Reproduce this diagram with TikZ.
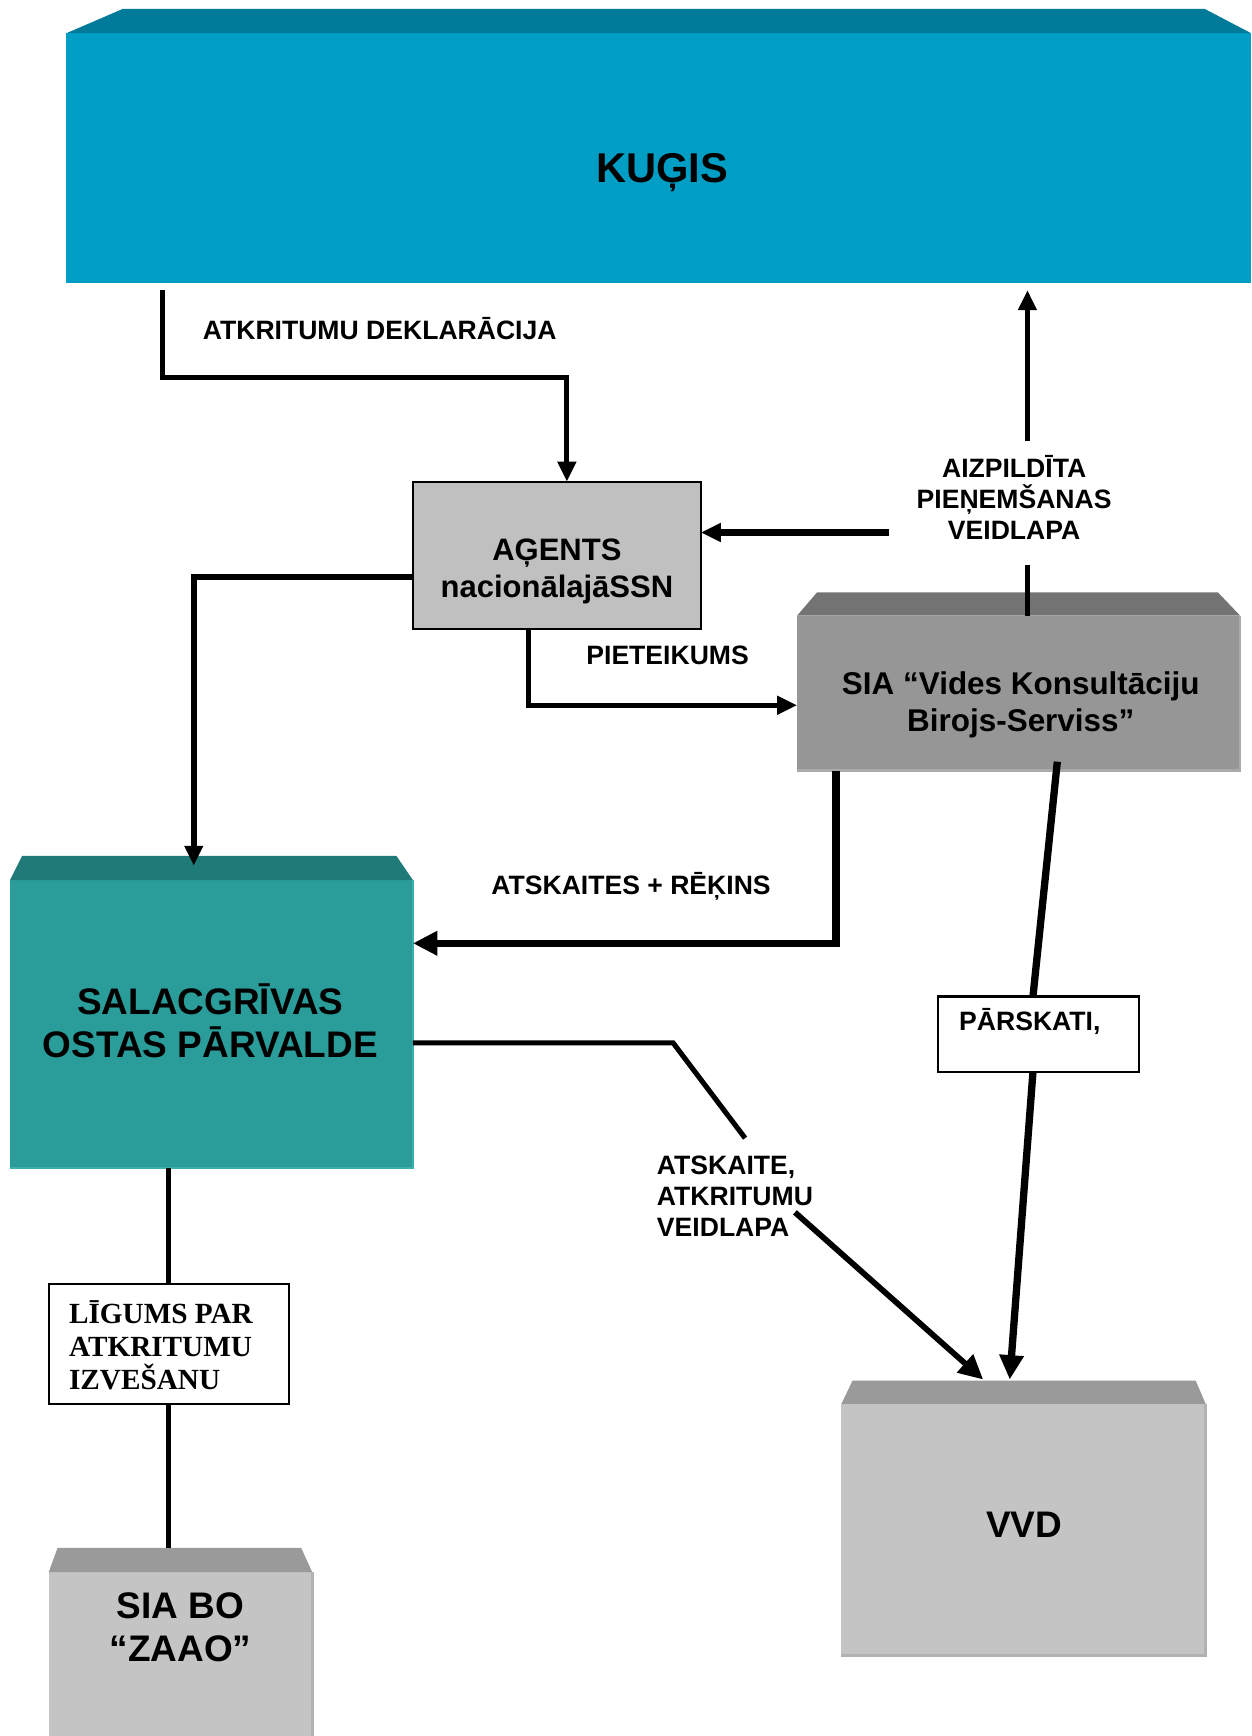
\documentclass[tikz,border=0pt]{standalone}
\usepackage{fontspec}
\setmainfont{Liberation Sans}
\newfontfamily\serifb{Liberation Serif}
\usetikzlibrary{arrows.meta,calc,fit}

\definecolor{kugfront}{RGB}{0,157,197}
\definecolor{kugtop}{RGB}{0,122,153}
\definecolor{salfront}{RGB}{42,157,154}
\definecolor{saltop}{RGB}{32,122,119}
\definecolor{saledge}{RGB}{60,175,172}
\definecolor{siafront}{RGB}{150,150,150}
\definecolor{siatop}{RGB}{115,115,115}
\definecolor{siaedge}{RGB}{170,170,170}
\definecolor{lgfront}{RGB}{196,196,196}
\definecolor{lgtop}{RGB}{154,154,154}
\definecolor{lgedge}{RGB}{178,178,178}
\definecolor{agfill}{RGB}{192,192,192}

\begin{document}
\begin{tikzpicture}[x=0.5pt,y=-0.5pt,
  face/.style={inner sep=0pt, outer sep=0pt, draw=none},
  plainbox/.style={inner sep=0pt, outer sep=0pt, draw=black, line width=1pt},
  edge line/.style={line width=1.2pt},
  lbl/.style={font=\bfseries\fontsize{12}{14}\selectfont, inner sep=0pt},
  boxtxt/.style={font=\bfseries\fontsize{14.2}{16.8}\selectfont, align=center, inner sep=0pt},
  bigtxt/.style={font=\bfseries\fontsize{16.7}{19.5}\selectfont, align=center, inner sep=0pt},
  ln/.style={line width=2.3pt},
  lnT/.style={line width=3.3pt},
  tipS/.style={-{Triangle[length=9pt,width=8pt]}},
  tipL/.style={-{Triangle[length=11pt,width=10.5pt]}}
]
\useasboundingbox (0,0) rectangle (1130,1568);
\clip (0,0) rectangle (1130,1568);

% ---------- boxes ----------
\node[face, fill=kugfront, fit={(60,30) (1130,256)}] (kugis) {};
\fill[kugtop] (kugis.north west) -- (111,8) -- (1088,8) -- (kugis.north east) -- cycle;
\node[font=\bfseries\fontsize{18.8}{22}\selectfont, inner sep=0pt] (kugisT) at (598,156) {KUĢIS};

\node[plainbox, fill=agfill, fit={(373,435) (633,568)}] (agents) {};
\node[boxtxt, font=\bfseries\fontsize{14}{17}\selectfont] (agentsT) at (503,516) {AĢENTS\\nacionālajāSSN};

\node[face, fill=siafront, fit={(720,556) (1120,696)}] (sia) {};
\fill[siatop] (sia.north west) -- (738,535) -- (1100,535) -- (sia.north east) -- cycle;
\draw[edge line, siaedge] (sia.north east) -- (sia.south east) -- (sia.south west);
\node[boxtxt] (siaT) at (922,637) {SIA “Vides Konsultāciju\\Birojs-Serviss”};

\node[face, fill=salfront, fit={(9,795) (373,1055)}] (sal) {};
\fill[saltop] (sal.north west) -- (20,773) -- (358,773) -- (sal.north east) -- cycle;
\draw[edge line, saledge] (sal.north east) -- (sal.south east) -- (sal.south west);
\node[bigtxt] (salT) at (190,922) {SALACGRĪVAS\\OSTAS PĀRVALDE};

\node[face, fill=lgfront, fit={(760,1268) (1089,1495)}] (vvd) {};
\fill[lgtop] (vvd.north west) -- (770,1247) -- (1080,1247) -- (vvd.north east) -- cycle;
\draw[edge line, lgedge] (vvd.north east) -- (vvd.south east) -- (vvd.south west);
\node[bigtxt] (vvdT) at (925,1377) {VVD};

\node[face, fill=lgfront, fit={(44,1420) (282,1568)}] (zaao) {};
\fill[lgtop] (zaao.north west) -- (52,1398) -- (272,1398) -- (zaao.north east) -- cycle;
\draw[edge line, lgedge] (zaao.north east) -- (zaao.south east);
\node[bigtxt] (zaaoT) at (163,1470) {SIA BO\\“ZAAO”};

\node[plainbox, fill=white, fit={(44,1160) (261,1268)}] (lig) {};
\node[font=\serifb\bfseries\fontsize{13.2}{15}\selectfont, align=left, inner sep=0pt, anchor=west] (ligT) at (62,1215) {LĪGUMS PAR\\ATKRITUMU\\IZVEŠANU};

\node[plainbox, fill=white, fit={(847,900) (1029,968)}] (pars) {};
\node[lbl, anchor=west] (parsT) at (866,923) {PĀRSKATI,};

% ---------- labels ----------
\node[lbl] (lDekl) at (343,297) {ATKRITUMU DEKLARĀCIJA};
\node[lbl, align=center] (lAizp) at (916,449) {AIZPILDĪTA\\PIEŅEMŠANAS\\VEIDLAPA};
\node[lbl] (lPiet) at (603,592) {PIETEIKUMS};
\node[lbl] (lAtsk) at (570,801) {ATSKAITES + RĒĶINS};
\node[lbl, align=left, anchor=west] (lVeid) at (593,1080) {ATSKAITE,\\ATKRITUMU\\VEIDLAPA};

% ---------- connectors ----------
% KUGIS -> AGENTS
\coordinate (k1) at (147,262);
\coordinate (k2) at (512,341);
\draw[ln, tipS] (k1) |- (k2) -- (k2 |- agents.north);

% SIA -> KUGIS (through label)
\coordinate (u1) at (928,398);
\coordinate (u2) at (928,510);
\draw[ln, tipS] (u1) -- ($(u1 |- kugis.south)+(0,6)$);
\draw[ln] (u2) -- (u2 |- sia.north);

% label -> AGENTS
\coordinate (r1) at (803,481);
\draw[line width=3pt, tipS] (r1) -- (r1 -| agents.east);

% AGENTS -> SALACGRIVAS
\coordinate (l1) at (175,521);
\coordinate (l2) at (175,782);
\draw[line width=2.6pt, tipS] (l1 -| agents.west) -- (l1) -- (l2);

% AGENTS -> SIA (PIETEIKUMS)
\coordinate (p1) at (477,637);
\draw[ln, tipS] (p1 |- agents.south) -- (p1) -- (p1 -| sia.west);

% SIA -> SALACGRIVAS (ATSKAITES + REKINS)
\coordinate (a1) at (755,852);
\draw[lnT, tipL] (a1 |- sia.south) -- (a1) -- (a1 -| sal.east);

% SALACGRIVAS -> VVD
\coordinate (s1) at (608,942);
\coordinate (s2) at (673,1028);
\coordinate (s3) at (718,1095);
\coordinate (s4) at (888,1246);
\draw[ln] (s1 -| sal.east) -- (s1) -- (s2);
\draw[line width=2.6pt, tipL] (s3) -- (s4);

% SIA -> PARSKATI -> VVD
\coordinate (v1) at (955,688);
\coordinate (v2) at (912,1246);
\draw[lnT] (v1) -- ($(pars.north)+(-5,0)$);
\draw[lnT, tipL] ($(pars.south)+(-5,0)$) -- (v2);

% SALACGRIVAS - LIGUMS - ZAAO
\coordinate (g1) at (152,1055);
\draw[ln] (g1 |- sal.south) -- (g1 |- lig.north);
\draw[ln] (g1 |- lig.south) -- ($(g1 |- zaao.north)+(0,-22)$);
\end{tikzpicture}
\end{document}
